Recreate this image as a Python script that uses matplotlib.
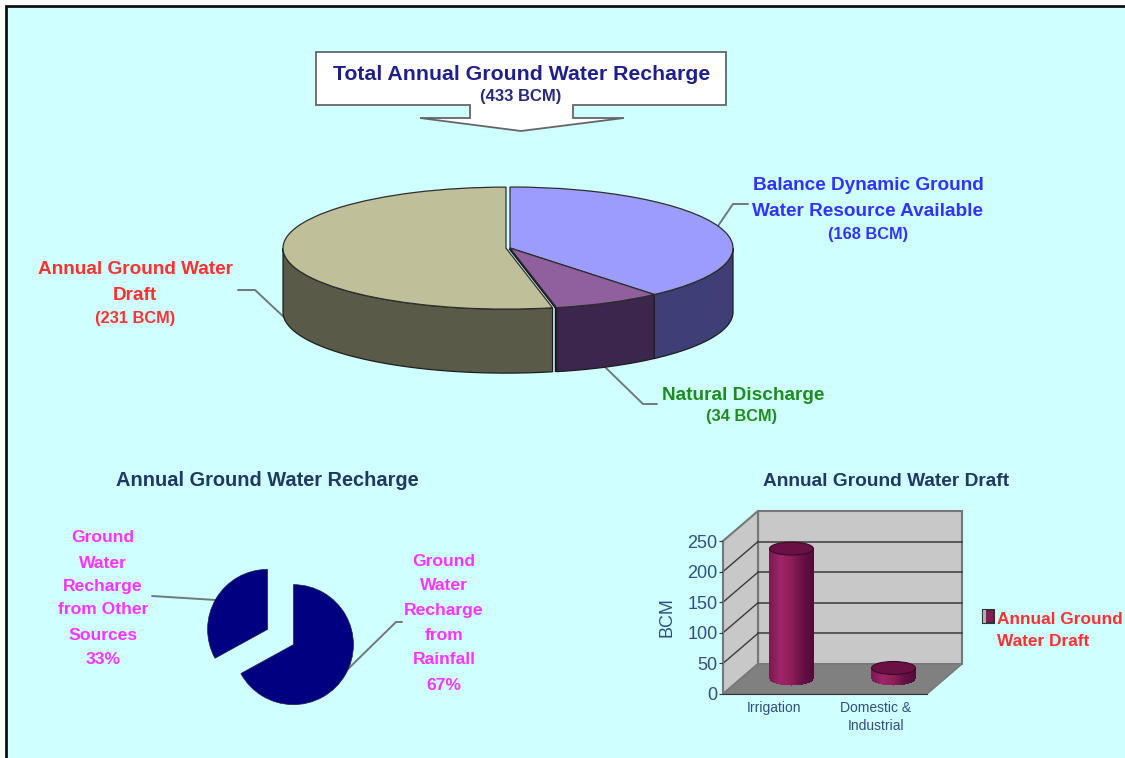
import numpy as np
import matplotlib
matplotlib.use("Agg")
import matplotlib.pyplot as plt
from matplotlib.colors import LinearSegmentedColormap
from matplotlib.patches import Ellipse, Polygon, Rectangle
from matplotlib.transforms import Affine2D

# ground water budget, BCM
total_recharge = 433
budget_values = [168, 34, 231]
budget_names = [["Balance Dynamic Ground", "Water Resource Available"],
                ["Natural Discharge"],
                ["Annual Ground Water", "Draft"]]

recharge_share = [67, 33]
recharge_names = [["Ground", "Water", "Recharge", "from", "Rainfall"],
                  ["Ground", "Water", "Recharge", "from Other", "Sources"]]

draft_categories = ["Irrigation", "Domestic &\nIndustrial"]
draft_values = [213, 18]
draft_ticks = [0, 50, 100, 150, 200, 250]

W, H = 1125, 758
BG = "#CFFFFF"
FONT = "Liberation Sans"

plt.rcParams["font.family"] = [FONT, "DejaVu Sans"]
fig = plt.figure(figsize=(W / 100, H / 100), dpi=100, facecolor="white")


def px_axes(left, top, right, bottom, **kw):
    return fig.add_axes([left / W, 1 - bottom / H, (right - left) / W, (bottom - top) / H], **kw)


# page layer in pixel coordinates
page = fig.add_axes([0, 0, 1, 1], zorder=0)
page.set_xlim(0, W)
page.set_ylim(H, 0)
page.axis("off")
page.add_patch(Rectangle((6, 6), W, H, fc=BG, ec="#111111", lw=2))


def label(x, y, s, color, size=13.7, **kw):
    page.text(x, y + 1, s, color=color, fontsize=size, fontweight="bold",
              ha="center", va="center", **kw)


def leader(xs, ys, color="#6E7A78"):
    page.plot(xs, ys, color=color, lw=1.4, solid_capstyle="round")


# title callout
page.add_patch(Polygon([(316, 52), (726, 52), (726, 105), (573, 105), (573, 118), (624, 118),
                        (521, 131), (420, 118), (470, 118), (470, 105), (316, 105)],
                       fc="white", ec="#666666", lw=1.3, joinstyle="miter"))
label(522, 73, "Total Annual Ground Water Recharge", "#1F1F8C", 15.3)
label(521, 96, f"({total_recharge} BCM)", "#2A2A7A", 12)

# big pie, flattened by dropping the equal aspect
RX, RY, DEPTH = 223, 61, 64
CX, CY = 510, 248
main = px_axes(CX - 1.25 * RX, CY - 1.25 * RY, CX + 1.25 * RX, CY + 1.25 * RY, zorder=2)
top_colors = ["#9C9CFF", "#90609E", "#BFBF99"]
side_colors = ["#3F3F78", "#3C264D", "#5A5A48"]
explode = [0, 0, 0.018]
main.pie(budget_values, colors=top_colors, explode=explode, startangle=90, counterclock=False,
         wedgeprops={"edgecolor": "#2E2E2E", "linewidth": 0.9, "zorder": 5}, frame=False)
main.set_aspect("auto")
main.set_xlim(-1.25, 1.25)
main.set_ylim(-1.25, 1.25)

edges = np.cumsum([0] + budget_values) / sum(budget_values) * 2 * np.pi
drop = DEPTH / RY
for i in range(len(budget_values)):
    lo = max(edges[i], np.pi / 2)
    hi = min(edges[i + 1], 3 * np.pi / 2)
    mid = (edges[i] + edges[i + 1]) / 2
    a = np.linspace(lo, hi, 80)
    x = np.sin(a) + explode[i] * np.sin(mid)
    y = np.cos(a) + explode[i] * np.cos(mid)
    main.add_patch(Polygon(np.r_[np.c_[x, y], np.c_[x, y - drop][::-1]], closed=True,
                           fc=side_colors[i], ec="#1E1E1E", lw=0.9, zorder=4, clip_on=False))

# heavy dark seams where the slices meet
for e in edges[1:3]:
    ex, ey = np.sin(e), np.cos(e)
    main.plot([0, ex], [0, ey], color="#14101C", lw=2.6, zorder=3.5, clip_on=False,
              solid_capstyle="butt")
    main.plot([ex, ex], [ey, ey - drop], color="#14101C", lw=3.2, zorder=3.5, clip_on=False,
              solid_capstyle="butt")

leader([718, 733, 748], [226, 204, 204])
leader([238, 255, 286], [290, 290, 319])
leader([605, 643, 657], [367, 404, 404])

BLUE, RED, GREEN = "#3333FF", "#FF3030", "#1E8C1E"
label(868, 184, budget_names[0][0], BLUE)
label(868, 211, budget_names[0][1], BLUE)
label(868, 233, f"({budget_values[0]} BCM)", BLUE, 11.8)
label(743, 394, budget_names[1][0], GREEN)
label(742, 416, f"({budget_values[1]} BCM)", GREEN, 11.8)
label(135, 269, budget_names[2][0], RED)
label(135, 294, budget_names[2][1], RED)
label(135, 317, f"({budget_values[2]} BCM)", RED, 11.8)

# recharge pie
label(267, 480, "Annual Ground Water Recharge", "#1F3864", 14.4)
PIE_R = 60
small = px_axes(280.5 - 1.25 * PIE_R, 637 - 1.25 * PIE_R, 280.5 + 1.25 * PIE_R, 637 + 1.25 * PIE_R, zorder=2)
small.pie(recharge_share, colors=["#000080", "#000080"], explode=[0.25, 0.25], startangle=90,
          counterclock=False, frame=False, wedgeprops={"edgecolor": "#22224A", "linewidth": 0.5})

leader([152, 216], [596, 600])
leader([402, 396, 347], [622, 622, 670])

PINK = "#FF33FF"
for name, y in zip(recharge_names[1] + [f"{recharge_share[1]}%"], [536, 562, 585, 609, 635, 658]):
    label(103, y, name, PINK, 12.6)
for name, y in zip(recharge_names[0] + [f"{recharge_share[0]}%"], [561, 585, 610, 634, 658, 684]):
    label(444, y, name, PINK, 12.6)

# draft chart: front plane of the 3-D box is a real axes, the rest is shifted from it
label(886, 480, "Annual Ground Water Draft", "#1F3864", 13.8)
AXIS_BLUE = "#2F5080"
bars = px_axes(723, 541, 927, 694, zorder=2)
bars.patch.set_alpha(0)
bars.set_xlim(0, 2)
bars.set_ylim(0, 250)
DX, DY = 35, 30
to_back = bars.transData + Affine2D().translate(DX, DY)
to_mid = bars.transData + Affine2D().translate(DX / 2, DY / 2)

WALL = "#C8C8C8"
FLOOR = "#808080"
EDGE = "#777777"
bars.add_patch(Rectangle((0, 0), 2, 250, transform=to_back, fc=WALL, ec=EDGE, lw=1.5, clip_on=False, zorder=1))
back_left = to_back.transform([(0, 0), (0, 250)])
front_left = bars.transData.transform([(0, 0), (0, 250)])
side = np.array([front_left[0], front_left[1], back_left[1], back_left[0]])
bars.add_patch(Polygon(side, transform=None, fc=WALL, ec=EDGE, lw=1.5, clip_on=False, zorder=1))
back_right = to_back.transform([(2, 0)])[0]
front_right = bars.transData.transform([(2, 0)])[0]
floor = np.array([front_left[0], front_right, back_right, back_left[0]])
bars.add_patch(Polygon(floor, transform=None, fc=FLOOR, ec=EDGE, lw=1.0, clip_on=False, zorder=1))

for v in draft_ticks[1:-1]:
    bars.plot([0, 2], [v, v], transform=to_back, color="#3A3A3A", lw=1.1, clip_on=False, zorder=2)
    p0 = bars.transData.transform((0, v))
    p1 = to_back.transform((0, v))
    bars.plot([p0[0], p1[0]], [p0[1], p1[1]], transform=None, color="#3A3A3A", lw=1.0, clip_on=False, zorder=2)

# cylinders built from thin bars so the shading runs across the width
shade = LinearSegmentedColormap.from_list("cyl", ["#7A1A4E", "#A0246A", "#8E1E58", "#661045", "#520A36"])
HALF = 0.215
CAP = 6.5 / (153 / 250)
u = np.linspace(-1, 1, 61)
step = u[1] - u[0]
for i, v in enumerate(draft_values):
    cx = i + 0.5
    sag = CAP * np.sqrt(1 - u ** 2)
    bars.bar(cx + HALF * u, v + sag, bottom=-sag, width=HALF * step * 1.15,
             color=shade((u + 1) / 2), transform=to_mid, clip_on=False, zorder=3, lw=0)
    bars.add_patch(Ellipse((cx, v), 2 * HALF, 2 * CAP, transform=to_mid, fc="#6A1044", ec="#3A0A28",
                           lw=0.8, clip_on=False, zorder=4))
bars.set_xlim(0, 2)
bars.set_ylim(0, 250)

for s in ["top", "right"]:
    bars.spines[s].set_visible(False)
bars.spines["left"].set_color(EDGE)
bars.spines["bottom"].set_color("#333333")
bars.spines["bottom"].set_zorder(5)
bars.set_yticks(draft_ticks)
bars.set_xticks([0.5, 1.5])
bars.set_xticklabels(draft_categories, color=AXIS_BLUE, fontsize=10, linespacing=1.4)
bars.tick_params(axis="y", labelsize=13, labelcolor=AXIS_BLUE, length=3, pad=1, color="#333333")
bars.tick_params(axis="x", length=0, pad=5)
page.text(667, 617, "BCM", color=AXIS_BLUE, fontsize=13, rotation=90, ha="center", va="center")

# legend key
page.add_patch(Rectangle((983, 610), 11, 13, fc="#8A1A55", ec="#333333", lw=1.5))
page.add_patch(Rectangle((983, 610), 3, 13, fc="#B0B0B0", ec="none"))
page.text(997, 619, "Annual Ground", color=RED, fontsize=12.4, fontweight="bold", ha="left", va="center")
page.text(997, 641, "Water Draft", color=RED, fontsize=12.4, fontweight="bold", ha="left", va="center")

fig.savefig("out.png", dpi=100)
